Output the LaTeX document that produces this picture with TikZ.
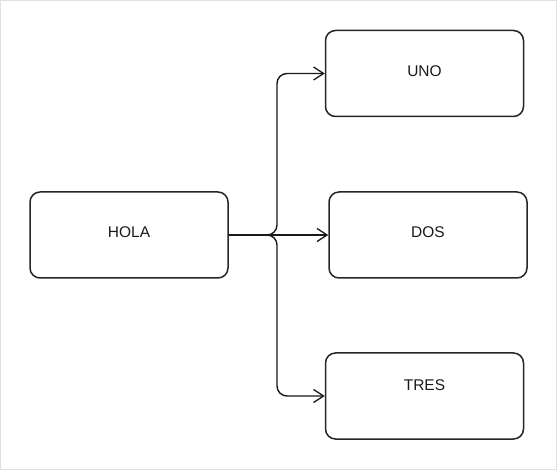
\documentclass[tikz,border=0pt]{standalone}
\usepackage{fontspec}
\setmainfont{Liberation Sans}
\usetikzlibrary{arrows.meta}
\begin{document}
\begin{tikzpicture}[x=1pt,y=-1pt,
  box/.style={draw=black!85, line width=1.5pt, rounded corners=10pt, minimum width=198pt, minimum height=86pt, inner sep=0pt, anchor=center},
  lbl/.style={font=\fontsize{15.5}{18}\selectfont, inner sep=0pt, anchor=center, text=black!90},
  conn/.style={draw=black!90, line width=1.4pt, rounded corners=10pt, -{Straight Barb[length=10pt,width=13pt,line width=1.3pt]}}]
\useasboundingbox (0,0) rectangle (557,470);
\draw[black!12, line width=1pt] (0.5,0.5) rectangle (556.5,469.5);
\node[box] (hola) at (129,235) {};
\node[box] (uno) at (424.5,73.5) {};
\node[box] (dos) at (428,235) {};
\node[box] (tres) at (424.5,396) {};
\node[lbl] (holat) at (129,232.5) {HOLA};
\node[lbl] (unot) at (424.5,71) {UNO};
\node[lbl] (dost) at (428,232.5) {DOS};
\node[lbl] (trest) at (424.5,385) {TRES};
\coordinate (split) at (277,235);
\draw[conn] (hola.east) -- (split) -- (split |- 0,73.5) -- (uno.west |- 0,73.5);
\draw[conn] (hola.east) -- (dos.west);
\draw[conn] (hola.east) -- (split) -- (split |- tres.center) -- (tres.west);
\end{tikzpicture}
\end{document}
